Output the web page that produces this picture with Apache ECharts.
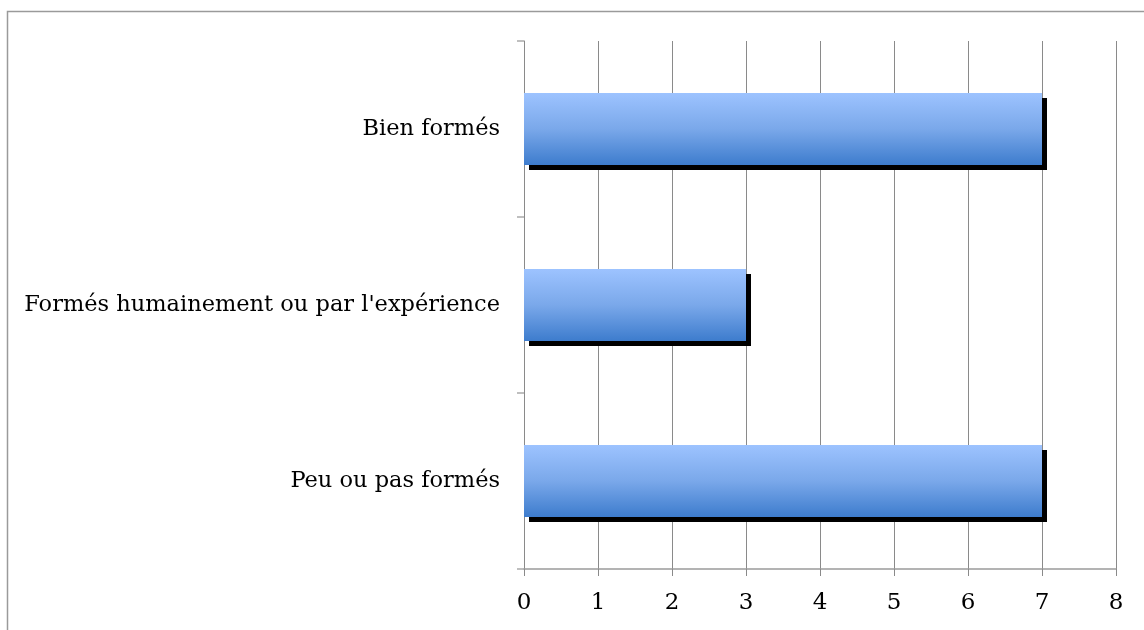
<!DOCTYPE html>
<html><head><meta charset="utf-8">
<script src="https://cdn.jsdelivr.net/npm/echarts@6/dist/echarts.min.js"></script>
<style>html,body{margin:0;padding:0;background:#fff}#c{width:1144px;height:630px}</style>
</head><body><div id="c"></div>
<script>
var categories = ["Peu ou pas formés", "Formés humainement ou par l'expérience", "Bien formés"];
var values = [7, 3, 7];
var xTicks = [0, 1, 2, 3, 4, 5, 6, 7, 8];

var chart = echarts.init(document.getElementById('c'));
var font = '"DejaVu Serif"';
chart.setOption({
  animation: false,
  graphic: [{
    type: 'polyline', silent: true,
    shape: { points: [[7.5, 640], [7.5, 11.5], [1150, 11.5]] },
    style: { stroke: '#9a9a9a', lineWidth: 1.5, fill: null }
  }],
  grid: { left: 524, right: 28, top: 41, bottom: 61 },
  xAxis: {
    type: 'value', min: xTicks[0], max: xTicks[xTicks.length - 1], interval: 1,
    axisLine: { show: true, lineStyle: { color: '#9a9a9a', width: 1.5 } },
    axisTick: { show: true, length: 7, lineStyle: { color: '#8a8a8a' } },
    splitLine: { show: true, lineStyle: { color: '#8a8a8a', width: 1 } },
    axisLabel: { color: '#000', fontFamily: font, fontSize: 23, margin: 23 }
  },
  yAxis: {
    type: 'category', data: categories,
    axisLine: { show: true, lineStyle: { color: '#8a8a8a', width: 1 } },
    axisTick: { show: true, length: 7, lineStyle: { color: '#aaaaaa', width: 1.5 } },
    splitLine: { show: false },
    axisLabel: { color: '#000', fontFamily: font, fontSize: 22.5, margin: 24 }
  },
  series: [{
    type: 'bar', data: values, barWidth: '41%',
    itemStyle: {
      color: new echarts.graphic.LinearGradient(0, 0, 0, 1, [
        { offset: 0, color: '#9dc3ff' },
        { offset: 0.5, color: '#7aa8ea' },
        { offset: 1, color: '#3d7ccd' }
      ]),
      shadowColor: '#000', shadowBlur: 0, shadowOffsetX: 5, shadowOffsetY: 5
    }
  }]
});
</script></body></html>
